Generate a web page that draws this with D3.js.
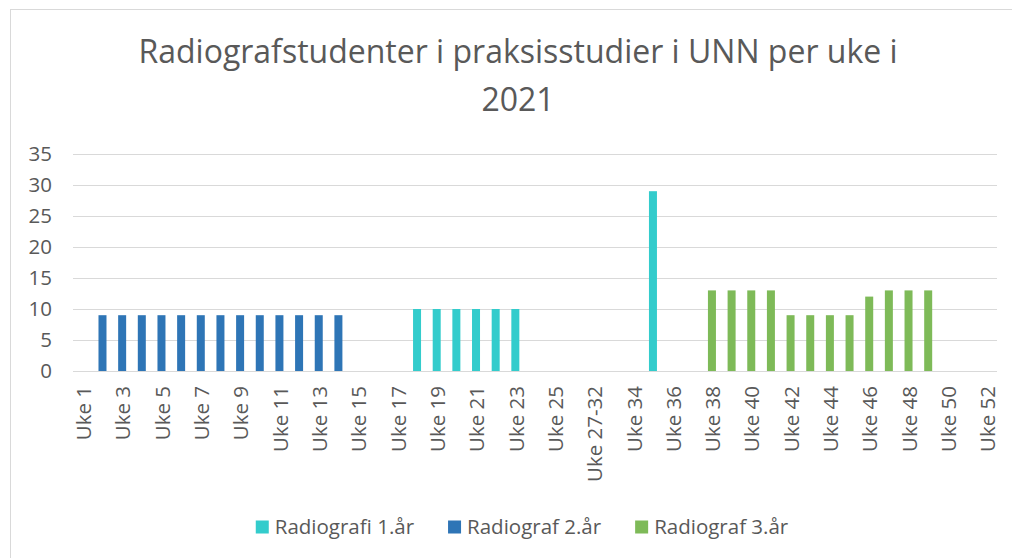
<!DOCTYPE html>
<html>
<head>
<style>
    body { margin: 0; background: #fff; }
    svg { font-family: "Open Sans", sans-serif; }
    .axis text { fill: #595959; }
</style>
</head>
<body>
<svg id="chart" width="1012" height="558"></svg>
<script src="https://cdn.jsdelivr.net/npm/d3@7"></script>
<script>
    const titleLines = ["Radiografstudenter i praksisstudier i UNN per uke i", "2021"];

    const categories = [
        "Uke 1", "Uke 2", "Uke 3", "Uke 4", "Uke 5", "Uke 6", "Uke 7", "Uke 8", "Uke 9", "Uke 10",
        "Uke 11", "Uke 12", "Uke 13", "Uke 14", "Uke 15", "Uke 16", "Uke 17", "Uke 18", "Uke 19", "Uke 20",
        "Uke 21", "Uke 22", "Uke 23", "Uke 24", "Uke 25", "Uke 26", "Uke 27-32", "Uke 33", "Uke 34", "Uke 35",
        "Uke 36", "Uke 37", "Uke 38", "Uke 39", "Uke 40", "Uke 41", "Uke 42", "Uke 43", "Uke 44", "Uke 45",
        "Uke 46", "Uke 47", "Uke 48", "Uke 49", "Uke 50", "Uke 51", "Uke 52"
    ];

    const seriesNames = ["Radiografi 1.år", "Radiograf 2.år", "Radiograf 3.år"];
    const seriesColors = ["#33CCCC", "#2E75B6", "#7EBA58"];

    const year1 = [
        0, 0, 0, 0, 0, 0, 0, 0, 0, 0,
        0, 0, 0, 0, 0, 0, 0, 10, 10, 10,
        10, 10, 10, 0, 0, 0, 0, 0, 0, 29,
        0, 0, 0, 0, 0, 0, 0, 0, 0, 0,
        0, 0, 0, 0, 0, 0, 0
    ];
    const year2 = [
        0, 9, 9, 9, 9, 9, 9, 9, 9, 9,
        9, 9, 9, 9, 0, 0, 0, 0, 0, 0,
        0, 0, 0, 0, 0, 0, 0, 0, 0, 0,
        0, 0, 0, 0, 0, 0, 0, 0, 0, 0,
        0, 0, 0, 0, 0, 0, 0
    ];
    const year3 = [
        0, 0, 0, 0, 0, 0, 0, 0, 0, 0,
        0, 0, 0, 0, 0, 0, 0, 0, 0, 0,
        0, 0, 0, 0, 0, 0, 0, 0, 0, 0,
        0, 0, 13, 13, 13, 13, 9, 9, 9, 9,
        12, 13, 13, 13, 0, 0, 0
    ];

    const yTicks = [0, 5, 10, 15, 20, 25, 30, 35];

    const series = [year1, year2, year3];

    const svg = d3.select("#chart");

    // chart frame (only top/left visible in the picture)
    svg.append("rect")
        .attr("x", 10.5).attr("y", 9.5)
        .attr("width", 1010).attr("height", 560)
        .attr("fill", "none").attr("stroke", "#d9d9d9");

    const plotLeft = 73, plotRight = 997, plotTop = 154, plotBottom = 371;

    const x = d3.scaleBand().domain(categories).range([plotLeft, plotRight]).padding(0);
    const y = d3.scaleLinear().domain([0, 35]).range([plotBottom, plotTop]);

    // title
    svg.append("g").selectAll("text")
        .data(titleLines)
        .enter().append("text")
        .attr("x", 518)
        .attr("y", function (d, i) { return 63 + i * 48; })
        .attr("text-anchor", "middle")
        .attr("font-size", 32)
        .attr("fill", "#595959")
        .text(function (d) { return d; });

    // gridlines
    svg.append("g").selectAll("line")
        .data(yTicks)
        .enter().append("line")
        .attr("x1", plotLeft).attr("x2", plotRight)
        .attr("y1", function (d) { return Math.round(y(d)) + 0.5; })
        .attr("y2", function (d) { return Math.round(y(d)) + 0.5; })
        .attr("stroke", "#d9d9d9")
        .attr("stroke-width", 1);

    // y axis labels
    const yAxis = svg.append("g")
        .attr("class", "axis")
        .attr("transform", "translate(" + plotLeft + ",0)")
        .call(d3.axisLeft(y).tickValues(yTicks).tickSize(0).tickPadding(21));
    yAxis.select(".domain").remove();
    yAxis.selectAll("text").attr("font-size", 20.5).attr("font-family", "Open Sans");

    // x axis labels, every other category
    const xAxis = svg.append("g")
        .attr("class", "axis")
        .attr("transform", "translate(0," + plotBottom + ")")
        .call(d3.axisBottom(x)
            .tickValues(categories.filter(function (d, i) { return i % 2 === 0; }))
            .tickSize(0));
    xAxis.select(".domain").remove();
    xAxis.selectAll("text")
        .attr("font-size", 20.5)
        .attr("font-family", "Open Sans")
        .attr("text-anchor", "end")
        .attr("transform", "rotate(-90)")
        .attr("x", -15)
        .attr("y", 0)
        .attr("dy", "0.4em");

    // bars
    const barWidth = 8;
    series.forEach(function (values, s) {
        svg.append("g").selectAll("rect")
            .data(values.map(function (v, i) { return { cat: categories[i], value: v }; })
                .filter(function (d) { return d.value > 0; }))
            .enter().append("rect")
            .attr("x", function (d) { return x(d.cat) + x.bandwidth() / 2 - barWidth / 2; })
            .attr("y", function (d) { return y(d.value); })
            .attr("width", barWidth)
            .attr("height", function (d) { return y(0) - y(d.value); })
            .attr("fill", seriesColors[s]);
    });

    // legend
    const legend = svg.append("g");
    const items = legend.selectAll("g")
        .data(seriesNames)
        .enter().append("g");
    items.append("rect")
        .attr("width", 13).attr("height", 13)
        .attr("y", -6.5)
        .attr("fill", function (d, i) { return seriesColors[i]; });
    items.append("text")
        .attr("x", 19)
        .attr("dy", "0.36em")
        .attr("font-size", 20.5)
        .attr("fill", "#595959")
        .text(function (d) { return d; });

    let offset = 0;
    const gap = 34;
    items.each(function () {
        const w = 19 + this.querySelector("text").getComputedTextLength();
        d3.select(this).attr("transform", "translate(" + offset + ",0)");
        offset += w + gap;
    });
    offset -= gap;
    legend.attr("transform", "translate(" + (522 - offset / 2) + ",527)");
</script>
</body>
</html>
